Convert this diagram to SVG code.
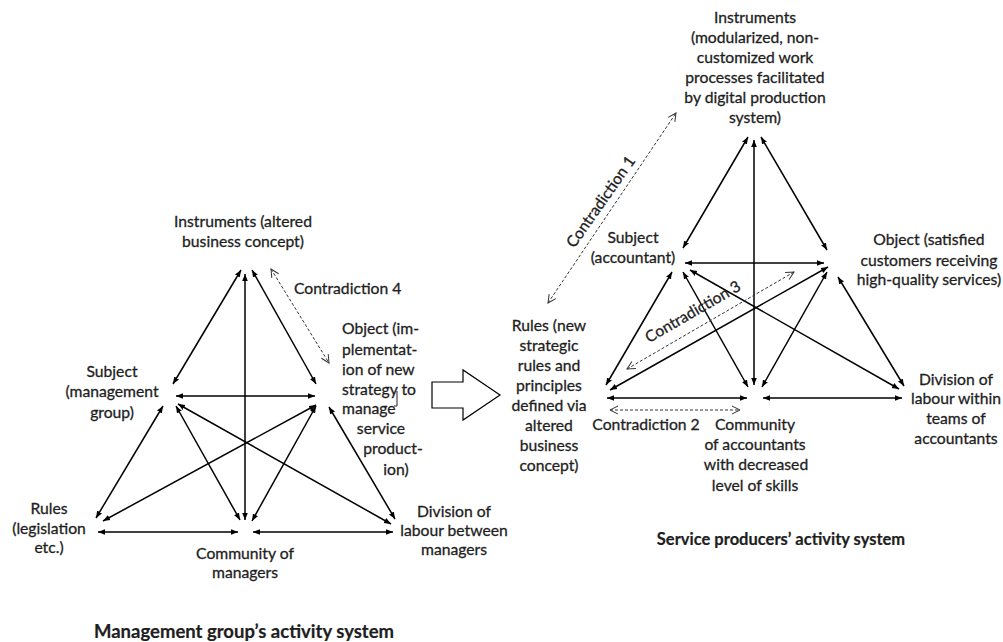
<svg xmlns="http://www.w3.org/2000/svg" width="1003" height="642" viewBox="0 0 1003 642">
<style>
text{font-family:Lato,"Liberation Sans",sans-serif;font-size:15.7px;fill:#1e1e1e;stroke:#1e1e1e;stroke-width:0.3}
.m{text-anchor:middle}
.t{font-weight:bold;font-size:18.5px;text-anchor:middle;stroke-width:0.2}
.t2{font-weight:bold;font-size:16.5px;text-anchor:middle;stroke-width:0.2}
.c line{stroke:#000;stroke-width:1.5;marker-start:url(#ah);marker-end:url(#ah)}
.d line{stroke:#333;stroke-width:1;stroke-dasharray:3 2;marker-start:url(#oh);marker-end:url(#oh)}
</style>
<defs>
<marker id="ah" viewBox="0 0 10 10" refX="10" refY="5" markerWidth="7" markerHeight="7" markerUnits="userSpaceOnUse" orient="auto-start-reverse"><path d="M0,1 L10,5 L0,9 z" fill="#000"/></marker>
<marker id="oh" viewBox="0 0 10 10" refX="9" refY="5" markerWidth="10" markerHeight="10" markerUnits="userSpaceOnUse" orient="auto-start-reverse"><path d="M1,1 L9,5 L1,9" fill="none" stroke="#333" stroke-width="1"/></marker>
</defs>
<rect width="1003" height="642" fill="#fff"/>

<!-- LEFT SYSTEM -->
<g id="connectors-left" class="c">
<line x1="173" y1="384" x2="241" y2="270"/>
<line x1="316" y1="384" x2="252" y2="270"/>
<line x1="176" y1="396" x2="315" y2="396"/>
<line x1="245" y1="274" x2="245" y2="520"/>
<line x1="96" y1="518" x2="163" y2="406"/>
<line x1="176" y1="406" x2="240" y2="520"/>
<line x1="316" y1="406" x2="252" y2="521"/>
<line x1="329" y1="407" x2="395" y2="519"/>
<line x1="103" y1="521" x2="316" y2="405"/>
<line x1="178" y1="404" x2="391" y2="524"/>
<line x1="98" y1="532" x2="238" y2="532"/>
<line x1="253" y1="532" x2="393" y2="532"/>
</g>
<g id="contradiction-4" class="d">
<line x1="271" y1="269" x2="329" y2="363"/>
<text x="294" y="294" style="text-anchor:start">Contradiction 4</text>
</g>
<g id="l-instruments"><text class="m" x="243" y="227">Instruments (altered</text><text class="m" x="243" y="247">business concept)</text></g>
<g id="l-subject"><text class="m" x="112" y="377">Subject</text><text class="m" x="112" y="397">(management</text><text class="m" x="112" y="418">group)</text></g>
<g id="l-object">
<text x="342" y="334">Object (im-</text><text x="342" y="355">plementat-</text><text x="342" y="375">ion of new</text><text x="342" y="395">strategy to</text><text x="342" y="414">manage</text>
<text class="m" x="381" y="434">service</text><text class="m" x="393" y="454">product-</text><text class="m" x="396" y="475">ion)</text>
<path d="M397,391 V406 H394" fill="none" stroke="#222" stroke-width="1"/>
</g>
<g id="l-rules"><text class="m" x="49" y="514">Rules</text><text class="m" x="49" y="534">(legislation</text><text class="m" x="49" y="553">etc.)</text></g>
<g id="l-community"><text class="m" x="245" y="559">Community of</text><text class="m" x="245" y="578">managers</text></g>
<g id="l-division"><text class="m" x="454" y="517">Division of</text><text class="m" x="454" y="536">labour between</text><text class="m" x="454" y="555">managers</text></g>
<g id="l-title"><text class="t" x="244" y="638">Management group’s activity system</text></g>

<g id="transition-arrow"><polygon points="432,382 463,382 463,370 500,395 463,420 463,408 432,408" fill="#fff" stroke="#000" stroke-width="1.2"/></g>

<!-- RIGHT SYSTEM -->
<g id="connectors-right" class="c">
<line x1="683" y1="248" x2="748" y2="137"/>
<line x1="827" y1="250" x2="761" y2="137"/>
<line x1="685" y1="263" x2="824" y2="263"/>
<line x1="754" y1="140" x2="754" y2="385"/>
<line x1="606" y1="385" x2="672" y2="272"/>
<line x1="683" y1="272" x2="748" y2="387"/>
<line x1="762" y1="387" x2="827" y2="272"/>
<line x1="838" y1="277" x2="904" y2="386"/>
<line x1="610" y1="390" x2="828" y2="267"/>
<line x1="690" y1="270" x2="899" y2="389"/>
<line x1="607" y1="398" x2="747" y2="398"/>
<line x1="763" y1="398" x2="902" y2="398"/>
</g>
<g id="contradiction-1" class="d">
<line x1="548" y1="303" x2="676" y2="113"/>
<text class="m" transform="translate(601,202) rotate(-55)" y="5">Contradiction 1</text>
</g>
<g id="contradiction-2" class="d">
<line x1="610" y1="410" x2="740" y2="410"/>
<text class="m" x="646" y="430">Contradiction 2</text>
</g>
<g id="contradiction-3" class="d">
<line x1="627" y1="369" x2="794" y2="272"/>
<text class="m" transform="translate(693,312) rotate(-30)" y="5">Contradiction 3</text>
</g>
<g id="r-instruments">
<text class="m" x="755" y="23">Instruments</text><text class="m" x="755" y="43">(modularized, non-</text><text class="m" x="755" y="63">customized work</text><text class="m" x="755" y="83">processes facilitated</text><text class="m" x="755" y="103">by digital production</text><text class="m" x="755" y="123">system)</text>
</g>
<g id="r-subject"><text class="m" x="633" y="243">Subject</text><text class="m" x="633" y="263">(accountant)</text></g>
<g id="r-object"><text class="m" x="929" y="245">Object (satisfied</text><text class="m" x="929" y="266">customers receiving</text><text class="m" x="929" y="285">high-quality services)</text></g>
<g id="r-rules"><text class="m" x="549" y="331">Rules (new</text><text class="m" x="549" y="351">strategic</text><text class="m" x="549" y="371">rules and</text><text class="m" x="549" y="391">principles</text><text class="m" x="549" y="411">defined via</text><text class="m" x="549" y="431">altered</text><text class="m" x="549" y="451">business</text><text class="m" x="549" y="471">concept)</text></g>
<g id="r-community"><text class="m" x="755" y="430">Community</text><text class="m" x="755" y="450">of accountants</text><text class="m" x="756" y="470">with decreased</text><text class="m" x="755" y="491">level of skills</text></g>
<g id="r-division"><text class="m" x="956" y="385">Division of</text><text class="m" x="956" y="404">labour within</text><text class="m" x="956" y="424">teams of</text><text class="m" x="956" y="444">accountants</text></g>
<g id="r-title"><text class="t2" x="781" y="545">Service producers’ activity system</text></g>
</svg>
